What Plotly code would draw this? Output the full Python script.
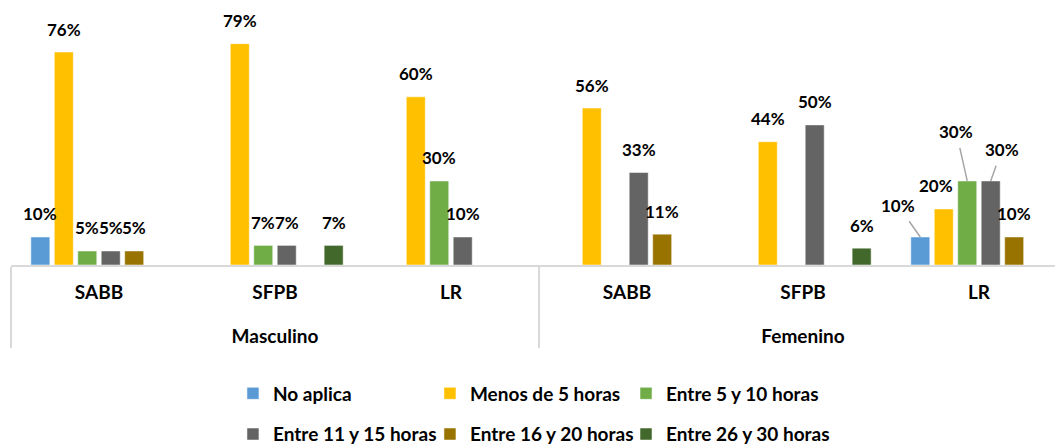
import plotly.graph_objects as go

# ---- data ----
genero = ["Masculino", "Masculino", "Masculino", "Femenino", "Femenino", "Femenino"]
modalidad = ["SABB", "SFPB", "LR", "SABB", "SFPB", "LR"]

series_names = ["No aplica", "Menos de 5 horas", "Entre 5 y 10 horas",
                "Entre 11 y 15 horas", "Entre 16 y 20 horas", "Entre 26 y 30 horas"]
no_aplica = [10, 0, 0, 0, 0, 10]
menos_5 = [76, 79, 60, 56, 44, 20]
entre_5_10 = [5, 7, 30, 0, 0, 30]
entre_11_15 = [5, 7, 10, 33, 50, 30]
entre_16_20 = [5, 0, 0, 11, 0, 10]
entre_26_30 = [0, 7, 0, 0, 6, 0]
series_values = [no_aplica, menos_5, entre_5_10, entre_11_15, entre_16_20, entre_26_30]
colors = ["#5B9BD5", "#FFC000", "#70AD47", "#646464", "#997300", "#43682B"]

FONT = "Lato"
BARGAP = 0.2
BARGROUPGAP = 0.19

# first-level labels get an empty second line so the gender row sits lower
modalidad_lbl = [m + "<br><span style='font-size:32px'>\u00a0</span>" for m in modalidad]

# legend laid out as 3 columns x 2 rows (like the original)
legend_of = ["legend", "legend2", "legend3", "legend", "legend2", "legend3"]

fig = go.Figure()
for j, (name, vals, col) in enumerate(zip(series_names, series_values, colors)):
    fig.add_trace(go.Bar(
        x=[genero, modalidad_lbl], y=vals, name=name,
        marker=dict(color=col, line=dict(color="rgba(255,255,255,0.5)", width=1)),
        legend=legend_of[j], legendgroup=f"g{j}",
        hoverinfo="skip",
    ))

# data labels positioned through a hidden numeric axis overlaying the category axis
n = len(series_names)
slot = (1 - BARGAP) / n
# callouts with leader lines for Femenino LR (index 5)
callouts = {(0, 5): (-22, -31), (2, 5): (-11, -49), (3, 5): (11, -31)}
shifts = {(1, 5): -8}
annotations = []
for j, vals in enumerate(series_values):
    off = -(1 - BARGAP) / 2 + (j + 0.5) * slot
    for i, v in enumerate(vals):
        if v == 0:
            continue
        base = dict(x=i + off, y=v, xref="x2", yref="y", text=f"{v}%",
                    font=dict(family=FONT, size=17, color="#000000", weight="bold"))
        if (j, i) in callouts:
            ax, ay = callouts[(j, i)]
            base.update(showarrow=True, arrowhead=0, arrowwidth=1.5, arrowcolor="#A6A6A6",
                        ax=ax, ay=ay, standoff=0, startstandoff=4)
        else:
            base.update(showarrow=False, yanchor="middle", yshift=23,
                        xshift=shifts.get((j, i), 0))
        annotations.append(base)

XR = [-0.5, 5.432]
legend_common = dict(orientation="v", xanchor="left", yanchor="top", y=-0.4293,
                     itemwidth=30, tracegroupgap=13,
                     font=dict(family=FONT, size=19, color="#000000", weight="bold"),
                     bgcolor="rgba(0,0,0,0)")
fig.update_layout(
    width=1055, height=445,
    margin=dict(l=11, r=0, t=10, b=180, autoexpand=False),
    paper_bgcolor="white", plot_bgcolor="white",
    barmode="group", bargap=BARGAP, bargroupgap=BARGROUPGAP,
    font=dict(family=FONT, size=19, color="#000000", weight="bold"),
    xaxis=dict(type="multicategory", range=XR, showline=True, linecolor="#D9D9D9", linewidth=2,
               showdividers=True, dividercolor="#D9D9D9", dividerwidth=2,
               ticks="", ticklabelstandoff=9, automargin=False,
               tickfont=dict(family=FONT, size=19, color="#000000", weight="bold")),
    xaxis2=dict(overlaying="x", range=XR, visible=False, type="linear"),
    yaxis=dict(range=[0, 91], visible=False, showgrid=False, zeroline=False),
    annotations=annotations,
    legend=dict(x=0.2126, **legend_common),
    legend2=dict(x=0.4013, **legend_common),
    legend3=dict(x=0.5891, **legend_common),
    showlegend=True,
)

fig.write_html("out.html", config={"displayModeBar": False},
               post_script="document.body.style.margin='0';")
